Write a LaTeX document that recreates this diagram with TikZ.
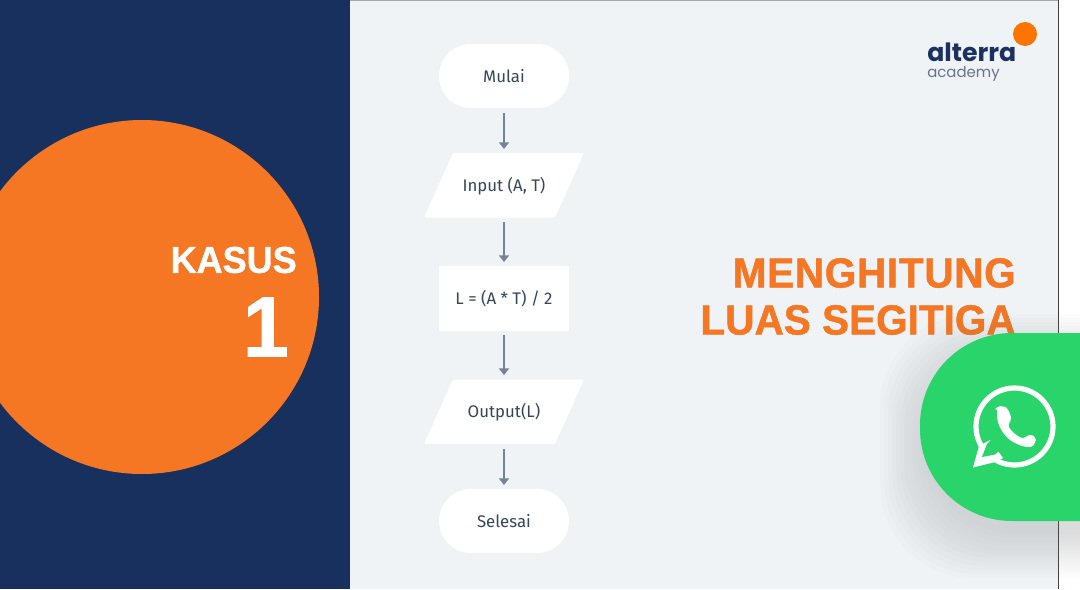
\documentclass[tikz,border=0pt]{standalone}
\usepackage{fontspec}
\setmainfont{Liberation Sans}
\newfontfamily\flowfont{Fira Sans}
\newfontfamily\logofont{Poppins}
\newfontfamily\headfont[BoldFeatures={FakeStretch=0.965,FakeBold=1.1}]{Liberation Sans}
\newfontfamily\headwide[BoldFeatures={FakeStretch=0.965,FakeBold=1.1,LetterSpace=1.6}]{Liberation Sans}
\usetikzlibrary{arrows.meta}
\definecolor{navy}{HTML}{17305E}
\definecolor{slidebg}{HTML}{EFF3F6}
\definecolor{brand}{HTML}{F57623}
\definecolor{dot}{HTML}{FF7300}
\definecolor{wa}{HTML}{29D56B}
\definecolor{arrowc}{HTML}{71849A}
\definecolor{inkc}{HTML}{36465A}
\definecolor{logoc}{HTML}{1B3160}
\definecolor{logoc2}{HTML}{66738A}
\tikzset{
 px/.style={x=0.75pt,y=-0.75pt},
 flowtext/.style={font=\flowfont\fontsize{12.6}{15}\selectfont,text=inkc,inner sep=0pt},
 termbox/.style={fill=white,rounded corners=24pt,minimum width=97.5pt,minimum height=48pt,flowtext},
 procbox/.style={fill=white,minimum width=97.5pt,minimum height=48.5pt,flowtext},
 iobox/.style={minimum width=97.5pt,minimum height=48pt,flowtext},
 flowarrow/.style={draw=arrowc,line width=1.3pt,-{Triangle[length=5pt,width=7.5pt]}},
 headline/.style={text=brand,anchor=east,inner sep=0pt},
}
\begin{document}
\begin{tikzpicture}[px]
\useasboundingbox (0,0) rectangle (1080,589);
% background
\fill[white] (0,0) rectangle (1080,589);
\fill[slidebg] (350,0) rectangle (1058,589);
\fill[navy] (0,0) rectangle (350,589);
\draw[black!75,line width=0.75pt] (1058,0) -- (1058,589);
\draw[black!35,line width=0.5pt] (350,0.4) -- (1058,0.4);
% orange disc
\begin{scope}
\clip (0,0) rectangle (350,589);
\fill[brand] (142,297) circle[radius=177];
\end{scope}
\node[font=\headfont\bfseries\fontsize{28}{30}\selectfont,text=white,anchor=east,inner sep=0pt] (kasus) at (297,260) {KASUS};
\node[font=\headfont\bfseries\fontsize{64}{70}\selectfont,text=white,anchor=east,inner sep=0pt] (num) at (289,327) {1};
% flowchart
\fill[white,rounded corners=1pt] (453,153) -- (584,153) -- (555,217.5) -- (424,217.5) -- cycle;
\fill[white,rounded corners=1pt] (453,379.5) -- (584,379.5) -- (555,444) -- (424,444) -- cycle;
\node[termbox] (start) at (504,76) {Mulai};
\node[iobox] (input) at (504,186) {Input (A, T)};
\node[procbox] (calc) at (504,298.5) {L = (A * T) / 2};
\node[iobox] (output) at (504,412.5) {Output(L)};
\node[termbox] (stop) at (504,521) {Selesai};
\coordinate (a1) at (504,113); \coordinate (b1) at (504,149);
\coordinate (a2) at (504,222); \coordinate (b2) at (504,262);
\coordinate (a3) at (504,335); \coordinate (b3) at (504,375);
\coordinate (a4) at (504,449); \coordinate (b4) at (504,485);
\draw[flowarrow] (a1) -- (b1);
\draw[flowarrow] (a2) -- (b2);
\draw[flowarrow] (a3) -- (b3);
\draw[flowarrow] (a4) -- (b4);
% headline
\node[headline,font=\headwide\bfseries\fontsize{31.5}{36}\selectfont] (h1) at (1016,273) {MENGHITUNG};
\node[headline,font=\headfont\bfseries\fontsize{31.5}{36}\selectfont] (h2) at (1016,320) {LUAS SEGITIGA};
% logo
\node[font=\logofont\bfseries\fontsize{18.9}{20}\selectfont,text=logoc,anchor=base west,inner sep=0pt] (logo) at (927,61) {alterra};
\node[font=\logofont\fontsize{11.2}{12}\selectfont,text=logoc2,anchor=base west,inner sep=0pt] (logob) at (927,77) {academy};
\fill[dot] (1025,34) circle[radius=12];
% button shadow
\foreach \g in {48,44,...,4}{
 \fill[black!50!slidebg,opacity=0.02,rounded corners=70pt] (928-\g,362-\g) rectangle (1180,530+\g);
}
% whatsapp button
\fill[wa,rounded corners=69pt] (1180,333) -- (920,333) -- (920,521) -- (1180,521) -- cycle;
% whatsapp icon
\draw[white,line width=3.9pt] (1014.5,426.5) circle[radius=38.5];
\fill[white] (973,467.5) -- (979,446) -- (990,440) -- (1003,458) -- (995,462) -- cycle;
\fill[wa] (987,444) -- (982,457) -- (995,454.5) -- (1006,445) -- (995,436) -- cycle;
\fill[white,rounded corners=2.5pt] (997,412) .. controls (995,408) and (1000,406) .. (1004,407)
 -- (1007,407) -- (1012,419) -- (1007.5,425)
 .. controls (1012,432) and (1017,436) .. (1024,439) -- (1029,434) -- (1036,437) -- (1035.5,443)
 .. controls (1031,448) and (1024,447) .. (1017,444)
 .. controls (1005,438) and (997,426) .. (997,412) -- cycle;
\end{tikzpicture}
\end{document}
